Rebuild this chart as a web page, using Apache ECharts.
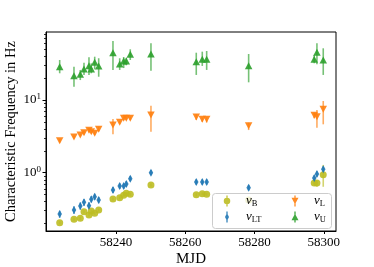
<!DOCTYPE html>
<html><head><meta charset="utf-8">
<script src="https://cdn.jsdelivr.net/npm/echarts@6/dist/echarts.min.js"></script>
<style>html,body{margin:0;padding:0;background:#fff}#c{width:374px;height:267px}</style>
</head><body><div id="c"></div>
<script>
// ---- data ----
const mjd = [58223.79, 58227.91, 58229.73, 58230.80, 58232.24, 58232.90, 58233.89, 58235.04, 58239.16, 58241.10, 58242.25, 58243.00, 58244.15, 58250.12, 58263.19, 58264.92, 58266.19, 58278.30, 58297.22, 58298.00, 58299.82];

const nuB   = [0.205, 0.229, 0.236, 0.291, 0.262, 0.297, 0.277, 0.307, 0.435, 0.453, 0.489, 0.521, 0.505, 0.678, 0.498, 0.514, 0.505, 0.421, 0.722, 0.722, 0.939];
const nuBLo = [0.195, 0.218, 0.225, 0.278, 0.250, 0.283, 0.264, 0.292, 0.415, 0.432, 0.467, 0.497, 0.482, 0.647, 0.475, 0.490, 0.482, 0.400, 0.690, 0.640, 0.641];
const nuBHi = [0.215, 0.240, 0.247, 0.304, 0.274, 0.311, 0.290, 0.322, 0.455, 0.474, 0.511, 0.545, 0.528, 0.709, 0.521, 0.538, 0.528, 0.442, 0.755, 0.790, 1.280];

const nuLT   = [0.270, 0.307, 0.348, 0.392, 0.352, 0.431, 0.468, 0.421, 0.578, 0.656, 0.656, 0.700, 0.827, 1.000, 0.745, 0.745, 0.745, 0.622, 0.846, 0.960, 1.120];
const nuLTLo = [0.240, 0.270, 0.310, 0.350, 0.315, 0.390, 0.425, 0.380, 0.525, 0.600, 0.600, 0.640, 0.760, 0.920, 0.685, 0.685, 0.685, 0.570, 0.775, 0.880, 1.030];
const nuLTHi = [0.300, 0.345, 0.390, 0.435, 0.392, 0.475, 0.515, 0.465, 0.635, 0.715, 0.715, 0.765, 0.900, 1.090, 0.810, 0.810, 0.810, 0.680, 0.920, 1.050, 1.220];

const nuL   = [2.75, 3.10, 3.30, 3.55, 3.83, 3.66, 3.48, 3.95, 4.53, 4.94, 5.60, 5.60, 5.60, 6.22, 5.84, 5.43, 5.43, 4.43, 6.16, 5.89, 7.45];
const nuLLo = [2.60, 2.95, 3.15, 3.35, 3.60, 3.45, 3.30, 3.70, 3.38, 4.70, 5.30, 5.30, 5.30, 3.66, 5.30, 5.00, 4.90, 3.86, 5.60, 4.16, 4.63];
const nuLHi = [2.90, 3.25, 3.45, 3.80, 4.10, 3.90, 3.70, 4.30, 5.48, 5.20, 5.90, 5.90, 5.90, 8.35, 6.40, 5.80, 5.80, 4.87, 6.70, 7.28, 9.69];

const nuU   = [28.7, 21.6, 22.6, 26.7, 29.6, 26.7, 33.0, 29.4, 44.7, 31.3, 34.4, 34.4, 42.5, 42.9, 33.6, 36.3, 36.3, 29.6, 36.3, 45.3, 35.5];
const nuULo = [23.3, 15.2, 18.8, 22.1, 22.1, 23.3, 26.4, 20.9, 25.9, 25.9, 27.5, 30.0, 35.5, 25.3, 22.1, 29.4, 25.9, 17.5, 32.0, 31.0, 22.1];
const nuUHi = [35.5, 28.7, 25.9, 32.6, 38.7, 31.9, 39.4, 37.5, 64.8, 37.5, 39.0, 38.0, 49.8, 60.3, 44.7, 46.2, 47.2, 42.9, 41.5, 60.3, 51.4];

const xTicks = [58240, 58260, 58280, 58300];
const yMajor = [1, 10];
const yMinor = [0.2, 0.3, 0.4, 0.5, 0.6, 0.7, 0.8, 0.9, 2, 3, 4, 5, 6, 7, 8, 9, 20, 30, 40, 50, 60, 70, 80];
const names = ['B', 'LT', 'L', 'U'];

// ---- styling ----
const FONT = 'Liberation Serif';
const colors = { B: '#bcbd22', LT: '#1f77b4', L: '#ff7f0e', U: '#2ca02c' };
const BAR = 'M2.85,0 H4.15 V11 H2.85 Z ';
const legendIcons = {
  B: 'path://' + BAR + 'M0.25,5.5 A3.25,3.25 0 1 1 6.75,5.5 A3.25,3.25 0 1 1 0.25,5.5 Z',
  LT: 'path://' + BAR + 'M3.5,1.6 L5.5,5.5 L3.5,9.4 L1.5,5.5 Z',
  L: 'path://' + BAR + 'M0,2.2 L7,2.2 L3.5,8.8 Z',
  U: 'path://' + BAR + 'M3.5,2.2 L7,8.8 L0,8.8 Z'
};
const iconW = { B: 6.5, LT: 4, L: 7, U: 7 };
const markers = {
  B: { symbol: 'circle', size: 7 },
  LT: { symbol: 'diamond', size: [4.5, 8] },
  L: { symbol: 'path://M0,0 L10,0 L5,9.5 Z', size: [7.5, 7] },
  U: { symbol: 'triangle', size: [7.5, 7] }
};
const dataSets = {
  B: [nuB, nuBLo, nuBHi], LT: [nuLT, nuLTLo, nuLTHi], L: [nuL, nuLLo, nuLHi], U: [nuU, nuULo, nuUHi]
};
// legend slot centres (icon centre x, row centre y)
const legendSlots = { B: [227, 201], L: [295, 201], LT: [227, 217], U: [295, 217] };

const series = [];
names.forEach(n => {
  const [v, lo, hi] = dataSets[n];
  series.push({
    type: 'custom', name: 'err' + n, silent: true, clip: false, z: 2,
    data: mjd.map((t, i) => [t, lo[i], hi[i]]),
    encode: { x: 0, y: [1, 2] },
    renderItem: (params, api) => {
      const p1 = api.coord([api.value(0), api.value(1)]);
      const p2 = api.coord([api.value(0), api.value(2)]);
      return { type: 'line', shape: { x1: p1[0], y1: p1[1], x2: p2[0], y2: p2[1] },
        style: { stroke: colors[n], lineWidth: 1.6, opacity: 0.65 } };
    }
  });
  series.push({
    type: 'scatter', name: n, z: 3,
    symbol: markers[n].symbol, symbolSize: markers[n].size,
    itemStyle: { color: colors[n], opacity: 0.9 },
    data: mjd.map((t, i) => [t, v[i]])
  });
});

const legends = ['B', 'L', 'LT', 'U'].map(n => {
  const w = iconW[n];
  const [cx, cy] = legendSlots[n];
  return {
    orient: 'horizontal', left: cx - w / 2, top: cy - 7, padding: 0,
    itemWidth: w, itemHeight: 11, selectedMode: false, z: 20,
    data: [{ name: n, icon: legendIcons[n] }],
    formatter: name => '{n|ν}{s|' + name + '}',
    textStyle: {
      color: '#000', fontFamily: FONT,
      rich: {
        n: { fontFamily: FONT, fontStyle: 'italic', fontSize: 13, lineHeight: 14, color: '#000',
             padding: [0, 0, 0, 19 - w / 2 - 5] },
        s: { fontFamily: FONT, fontSize: 8.5, lineHeight: 14, color: '#000', padding: [5, 0, 0, 0] }
      }
    }
  };
});

const chart = echarts.init(document.getElementById('c'), null, { renderer: 'canvas' });
chart.setOption({
  animation: false,
  backgroundColor: '#fff',
  grid: { left: 46, top: 32, width: 290, height: 199, containLabel: false, outerBoundsMode: 'none',
    show: true, borderColor: '#000', borderWidth: 1, backgroundColor: 'transparent' },
  graphic: [{
    type: 'rect', left: 212, top: 193, z: 15, silent: true,
    shape: { width: 119, height: 35, r: 3 },
    style: { fill: 'rgba(255,255,255,0.8)', stroke: '#cccccc', lineWidth: 1 }
  }],
  xAxis: {
    type: 'value', min: 58219.84, max: 58303.5,
    name: 'MJD', nameLocation: 'middle', nameGap: 21, nameMoveOverlap: false,
    nameTextStyle: { fontFamily: FONT, fontSize: 15, color: '#000' },
    axisLine: { show: true, lineStyle: { color: '#000', width: 1 } },
    axisTick: { show: true, length: 3, inside: false, customValues: xTicks, lineStyle: { color: '#000' } },
    axisLabel: { customValues: xTicks, margin: 5, fontFamily: FONT, fontSize: 13, color: '#000',
      formatter: v => String(v) },
    splitLine: { show: false }
  },
  yAxis: [{
    type: 'log', logBase: 10, min: 0.158, max: 86.1,
    name: 'Characteristic Frequency in Hz', nameLocation: 'middle', nameGap: 27, nameRotate: 90,
    nameMoveOverlap: false,
    nameTextStyle: { fontFamily: FONT, fontSize: 14.5, color: '#000' },
    axisLine: { show: true, lineStyle: { color: '#000', width: 1 } },
    axisTick: { show: true, length: 3.5, customValues: yMajor, lineStyle: { color: '#000' } },
    axisLabel: { customValues: yMajor, margin: 5, color: '#000',
      formatter: v => '{b|10}{s|' + Math.round(Math.log10(v)) + '}',
      rich: {
        b: { fontFamily: FONT, fontSize: 13, color: '#000' },
        s: { fontFamily: FONT, fontSize: 9, color: '#000', padding: [0, 0, 7, 0] }
      } },
    splitLine: { show: false }, minorTick: { show: false }
  }, {
    type: 'log', logBase: 10, min: 0.158, max: 86.1, position: 'left',
    axisLine: { show: false },
    axisTick: { show: true, length: 2, customValues: yMinor, lineStyle: { color: '#000', width: 0.8 } },
    axisLabel: { show: false }, splitLine: { show: false }
  }],
  legend: legends,
  series: series
});
</script></body></html>
